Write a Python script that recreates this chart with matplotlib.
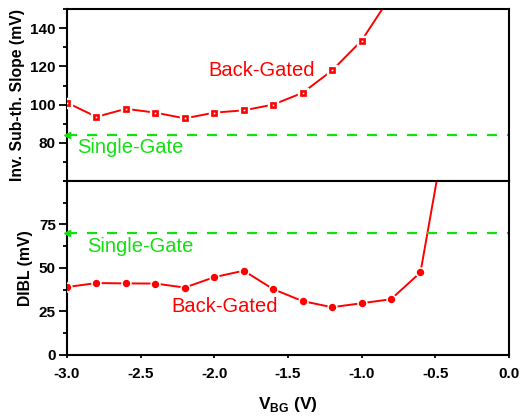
import matplotlib
matplotlib.use("Agg")
import matplotlib.pyplot as plt
from matplotlib.ticker import MultipleLocator

plt.rcParams['font.family'] = ['Liberation Sans', 'DejaVu Sans']
plt.rcParams['mathtext.fontset'] = 'custom'
plt.rcParams['mathtext.rm'] = 'Liberation Sans'
plt.rcParams['mathtext.bf'] = 'Liberation Sans:bold'
plt.rcParams['axes.unicode_minus'] = False

# Data
vbg_ss = [-3.0, -2.8, -2.6, -2.4, -2.2, -2.0, -1.8, -1.6, -1.4, -1.2, -1.0, -0.8]
ss_back = [101, 93.6, 97.8, 95.8, 92.8, 95.8, 97.0, 100.0, 106.2, 117.9, 133.5, 157]
ss_single = 84.2

vbg_dibl = [-3.0, -2.8, -2.6, -2.4, -2.2, -2.0, -1.8, -1.6, -1.4, -1.2, -1.0, -0.8, -0.6, -0.4]
dibl_back = [39.0, 41.3, 41.1, 41.0, 38.7, 44.7, 48.4, 37.8, 30.9, 27.4, 29.7, 32.0, 47.4, 143]
dibl_single = 70.2

red = '#ff0000'
green = '#11e011'

fig = plt.figure(figsize=(5.21, 4.17), dpi=100)
ax1 = fig.add_axes([0.1286, 0.566, 0.848, 0.412])
ax2 = fig.add_axes([0.1286, 0.149, 0.848, 0.417])

for ax in (ax1, ax2):
    for s in ax.spines.values():
        s.set_linewidth(1.5)
    ax.set_xlim(-3.0, 0.0)
    ax.xaxis.set_major_locator(MultipleLocator(0.5))

TS = 11  # tick label size

# Top panel
ax1.plot(vbg_ss, ss_back, color=red, lw=1.4, zorder=2)
ax1.plot(vbg_ss, ss_back, ls='none', marker='s', ms=6.5, mfc='white', mec='white', zorder=3)
ax1.plot(vbg_ss, ss_back, ls='none', marker='s', ms=4.3, mfc=red, mec=red, mew=0.5, zorder=4)
ax1.plot(vbg_ss, ss_back, ls='none', marker='s', ms=1.2, mfc='white', mec='white', mew=0, zorder=5)
ax1.plot([-3.0, 0.0], [ss_single, ss_single], color=green, lw=1.6, ls=(0, (4.5, 4.5)), zorder=2)
ax1.plot([-3.0], [ss_single], ls='none', marker='<', ms=5, color=green, zorder=5, clip_on=False)
ax1.set_ylim(60, 150)
ax1.set_yticks([80, 100, 120, 140])
ax1.yaxis.set_minor_locator(MultipleLocator(10))
ax1.tick_params(axis='y', which='major', direction='out', length=6, width=1.3, labelsize=TS, pad=2)
ax1.tick_params(axis='y', which='minor', direction='out', length=3, width=1.3)
ax1.tick_params(axis='x', which='major', direction='out', length=6, width=1.3, labelbottom=False)
for lab in ax1.get_yticklabels():
    lab.set_fontweight('bold')
ax1.set_ylabel('Inv. Sub-th. Slope (mV)', fontweight='bold', fontsize=11.3, labelpad=4)
ax1.text(-2.04, 118, 'Back-Gated', color=red, fontsize=14.5, va='center', ha='left')
ax1.text(-2.93, 77.3, 'Single-Gate', color=green, fontsize=14.5, va='center', ha='left')

# Bottom panel
ax2.plot(vbg_dibl, dibl_back, color=red, lw=1.4, zorder=2)
ax2.plot(vbg_dibl, dibl_back, ls='none', marker='o', ms=6.5, mfc='white', mec='white', zorder=3)
ax2.plot(vbg_dibl, dibl_back, ls='none', marker='o', ms=4.3, mfc=red, mec=red, zorder=4)
ax2.plot([-3.0, 0.0], [dibl_single, dibl_single], color=green, lw=1.6, ls=(0, (4.5, 4.5)), zorder=2)
ax2.plot([-3.0], [dibl_single], ls='none', marker='<', ms=5, color=green, zorder=5, clip_on=False)
ax2.set_ylim(0, 100)
ax2.set_yticks([0, 25, 50, 75])
ax2.yaxis.set_minor_locator(MultipleLocator(12.5))
ax2.tick_params(axis='y', which='major', direction='out', length=6, width=1.3, labelsize=TS, pad=2)
ax2.tick_params(axis='y', which='minor', direction='out', length=3, width=1.3)
ax2.tick_params(axis='x', which='major', direction='out', length=2.5, width=1.3, labelsize=TS, pad=6)
for lab in ax2.get_yticklabels() + ax2.get_xticklabels():
    lab.set_fontweight('bold')
ax2.set_ylabel('DIBL (mV)', fontweight='bold', fontsize=11.3)
ax2.set_xlabel(r'$\mathbf{V}_{\mathbf{BG}}$ (V)', fontweight='bold', fontsize=12.5, labelpad=10)
ax2.text(-2.86, 62.4, 'Single-Gate', color=green, fontsize=14.5, va='center', ha='left')
ax2.text(-2.29, 27.7, 'Back-Gated', color=red, fontsize=14.5, va='center', ha='left')

fig.align_ylabels([ax1, ax2])
fig.savefig('out.png', dpi=100)
